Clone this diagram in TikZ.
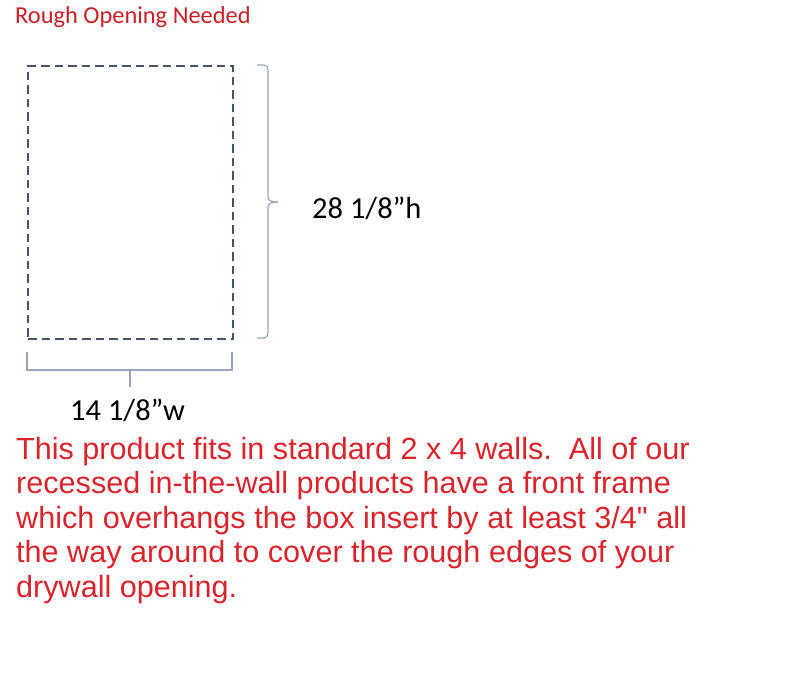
\documentclass[tikz,border=0pt]{standalone}
\usepackage{fontspec}
\setmainfont{Carlito}
\newfontfamily\arialf{Liberation Sans}
\definecolor{titlered}{RGB}{200,32,38}
\definecolor{parared}{RGB}{218,36,44}
\definecolor{dashcol}{RGB}{68,84,106}
\definecolor{bracecol}{RGB}{150,166,190}
\tikzset{
  titletext/.style={anchor=base west, inner sep=0pt, text=titlered, font=\fontsize{24.4}{28}\selectfont},
  dimtext/.style={anchor=base west, inner sep=0pt, text=black, font=\fontsize{30.5}{34}\selectfont},
  paraline/.style={anchor=base west, inner sep=0pt, text=parared, font=\arialf\fontsize{30.6}{34}\selectfont},
  openbox/.style={draw=dashcol, line width=2.2pt, dash pattern=on 8.5pt off 5pt, minimum width=205pt, minimum height=273pt, inner sep=0pt, anchor=north west},
  bracket/.style={draw=bracecol, line width=1.2pt}
}
\begin{document}
\begin{tikzpicture}[x=1pt,y=-1pt]
\useasboundingbox (0,0) rectangle (800,673);
\node[titletext] (title) at (15,23) {Rough Opening Needed};
\node[openbox] (box) at (27,65) {};
% right brace
\coordinate (rt) at (257,65);
\coordinate (rb) at (257,338);
\coordinate (rm) at (278,202);
\draw[bracket] (rt) -- (264,65) to[out=0,in=90] (268,70) -- (268,197) to[out=-90,in=180] (rm);
\draw[bracket] (rb) -- (264,338) to[out=0,in=-90] (268,333) -- (268,207) to[out=90,in=180] (rm);
\node[dimtext] (hlabel) at (312,218) {28 1/8”h};
% bottom bracket
\coordinate (bl) at (27,352);
\coordinate (br) at (232,352);
\coordinate (bm) at (130,387);
\draw[bracket] (bl) -- (27,370) -- (232,370) -- (br);
\draw[bracket] (130,370) -- (bm);
\node[dimtext] (wlabel) at (70,420) {14 1/8”w};
% paragraph
\node[paraline] (p1) at (16,459) {This product fits in standard 2 x 4 walls.\ \ All of our};
\node[paraline] (p2) at (16,493.5) {recessed in-the-wall products have a front frame};
\node[paraline] (p3) at (16,528) {which overhangs the box insert by at least 3/4" all};
\node[paraline] (p4) at (16,562.5) {the way around to cover the rough edges of your};
\node[paraline] (p5) at (16,597) {drywall opening.};
\end{tikzpicture}
\end{document}
